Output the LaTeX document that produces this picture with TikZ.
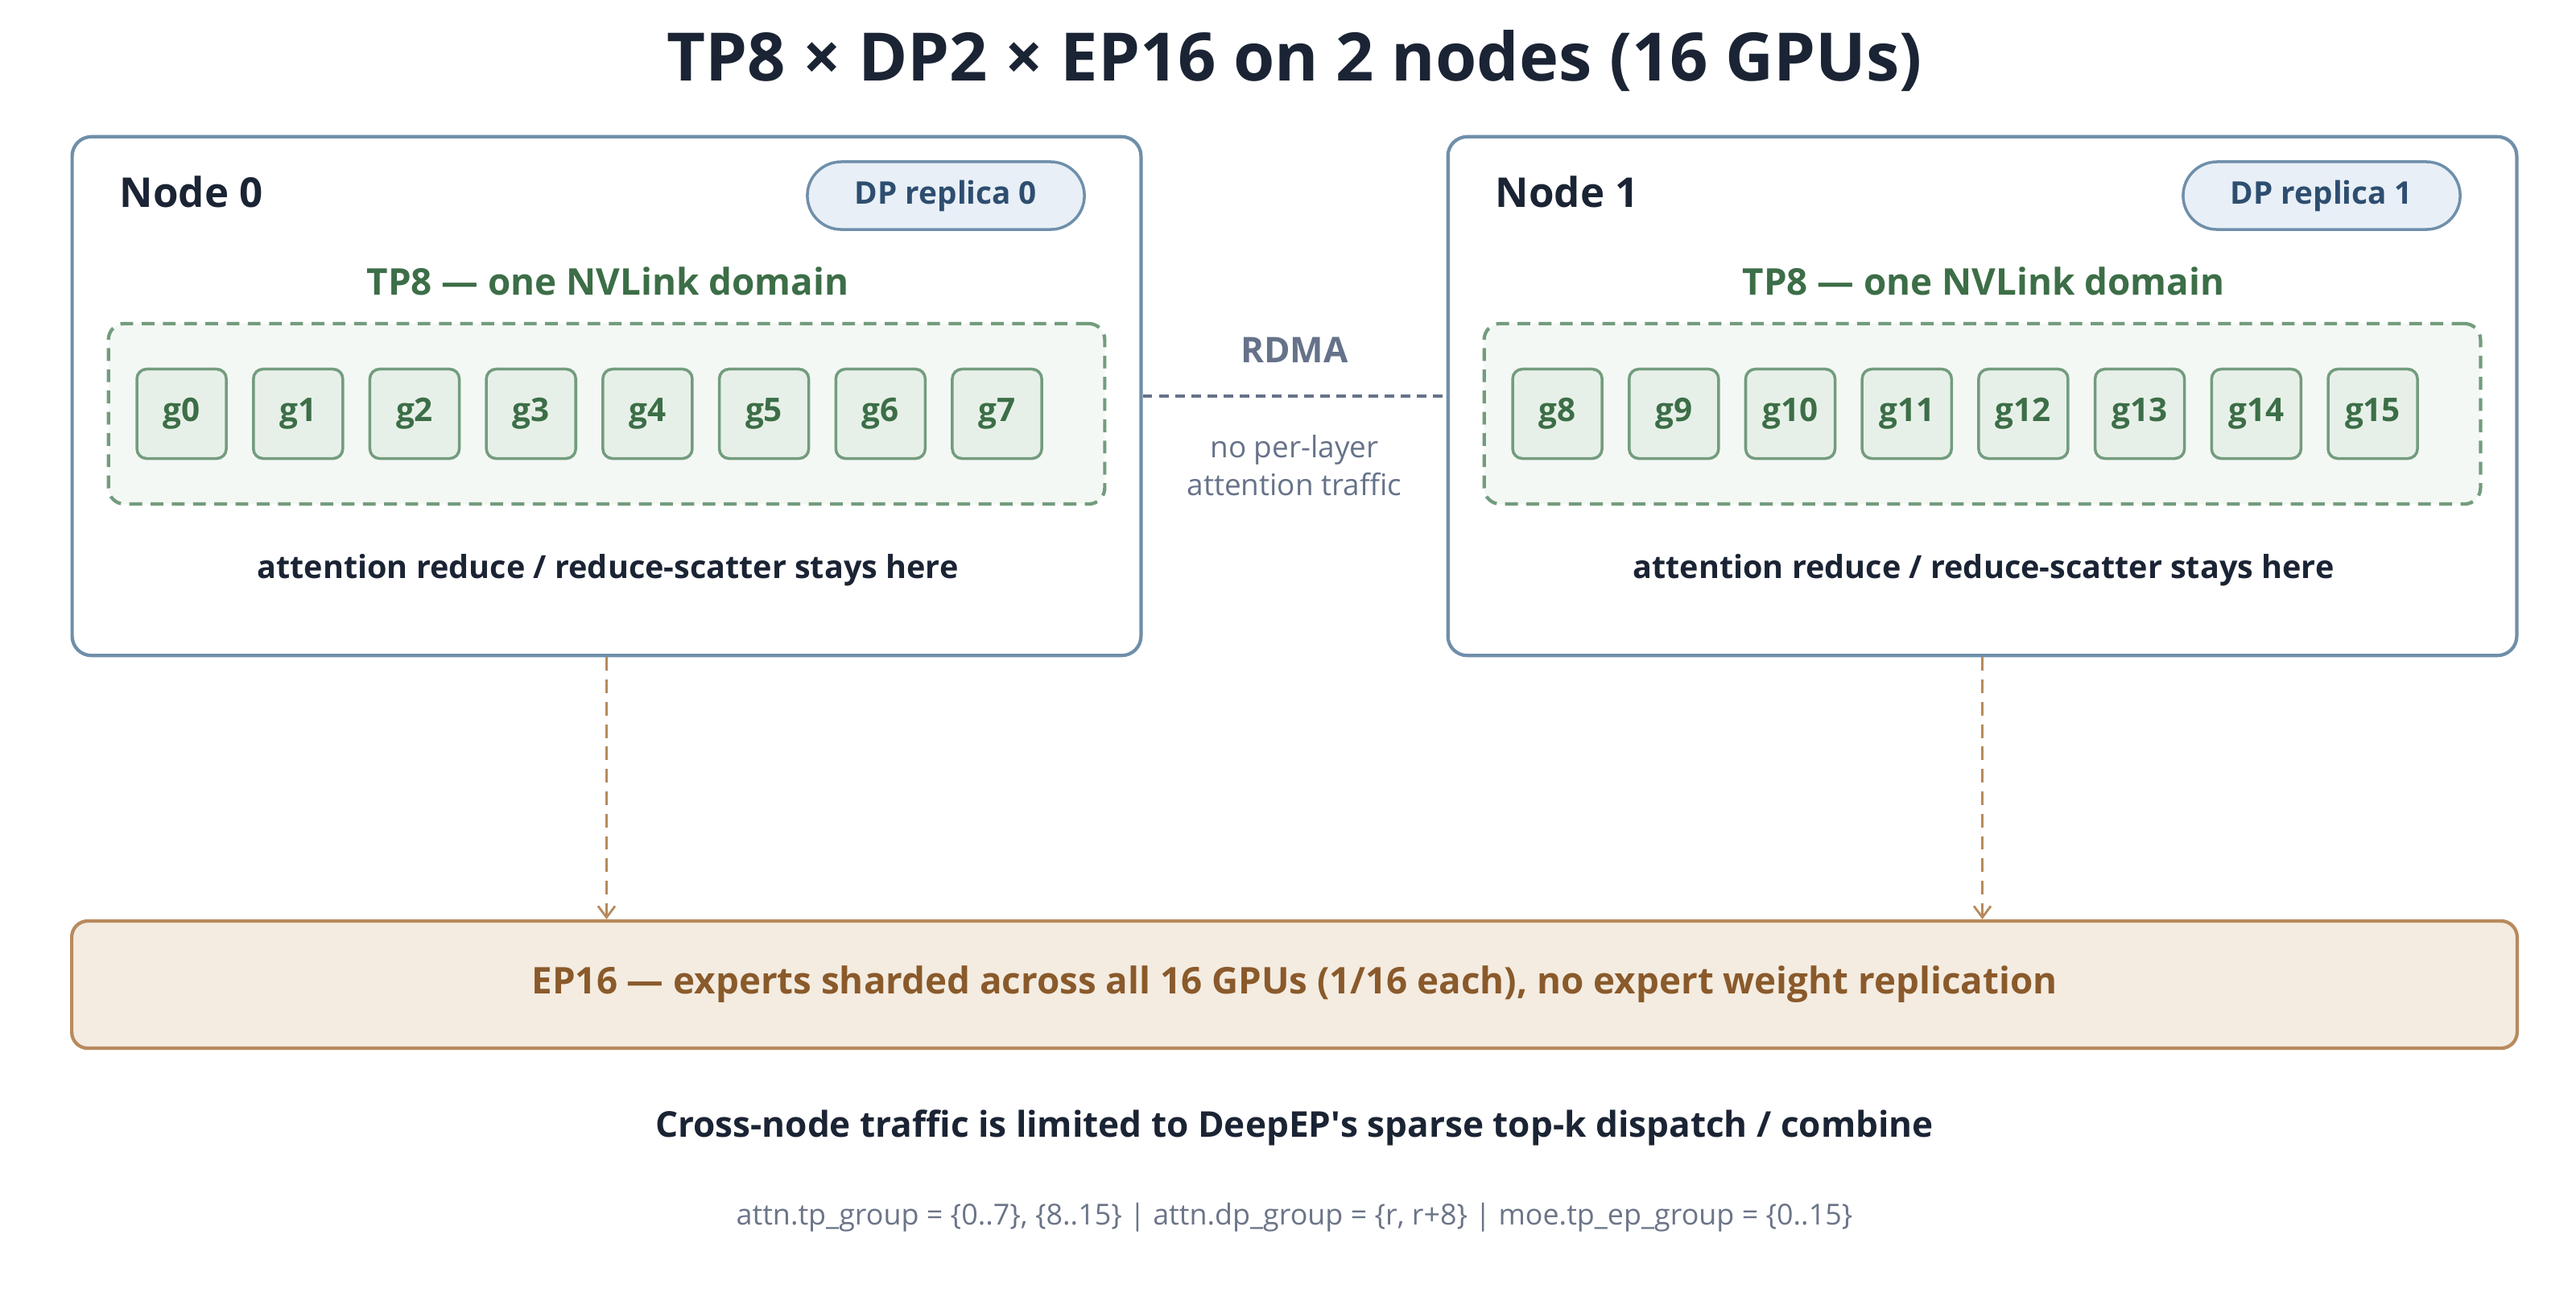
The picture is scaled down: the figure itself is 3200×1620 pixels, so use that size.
\documentclass[tikz,border=0pt]{standalone}
\usepackage{fontspec}
\setmainfont{Open Sans}
\usepackage{xcolor}
\usetikzlibrary{arrows.meta}

\definecolor{ink}{HTML}{1B2434}
\definecolor{nodeline}{HTML}{6F8FAA}
\definecolor{pillfill}{HTML}{E8EFF7}
\definecolor{pilltext}{HTML}{2E4E70}
\definecolor{tpgreen}{HTML}{3C6E47}
\definecolor{tpline}{HTML}{739C7E}
\definecolor{tpfill}{HTML}{F4F8F4}
\definecolor{gpufill}{HTML}{E7F0E8}
\definecolor{rdmagray}{HTML}{667289}
\definecolor{epline}{HTML}{B88A5C}
\definecolor{epfill}{HTML}{F4ECE1}
\definecolor{eptext}{HTML}{8A5A2B}
\definecolor{notegray}{HTML}{6B7488}

\tikzset{
	nodebox/.style={draw=nodeline, line width=1.2pt, fill=white, rounded corners=0.24cm,
		minimum width=13.27cm, minimum height=6.44cm, inner sep=0pt},
	pill/.style={draw=nodeline, line width=1pt, fill=pillfill, rounded corners=0.42cm,
		minimum width=3.44cm, minimum height=0.84cm, text=pilltext,
		font=\bfseries\fontsize{11}{13}\selectfont},
	tpbox/.style={draw=tpline, line width=1.2pt, fill=tpfill, dash pattern=on 4.5pt off 3pt,
		rounded corners=0.2cm, minimum width=12.37cm, minimum height=2.24cm, inner sep=0pt},
	gpu/.style={draw=tpline, line width=1pt, fill=gpufill, rounded corners=0.12cm,
		minimum size=1.11cm, inner sep=0pt, text=tpgreen,
		font=\bfseries\fontsize{11.5}{13}\selectfont},
	boldlbl/.style={font=\bfseries\fontsize{11.25}{14}\selectfont, text=ink},
	epflow/.style={draw=epline, line width=0.8pt, dash pattern=on 4.8pt off 3.1pt,
		-{Straight Barb[length=4pt,width=6pt]}},
}

\begin{document}
\begin{tikzpicture}[x=0.01cm, y=-0.01cm]
	\useasboundingbox[fill=white] (0,0) rectangle (3200,1620);

	%% Title
	\node[text=ink, font=\bfseries\fontsize{23.6}{28}\selectfont] (title) at (1608,76)
		{TP8 × DP2 × EP16 on 2 nodes (16 GPUs)};

	%% The two nodes, one DP replica each
	\foreach \n/\dx in {0/0, 1/1709} {
		\node[nodebox] (node\n) at (753.5+\dx,492) {};
		\node[anchor=west, inner sep=0pt, text=ink, font=\bfseries\fontsize{14.5}{17}\selectfont]
			(name\n) at (148+\dx,238) {Node \n};
		\node[pill] (dp\n) at (1175+\dx,243) {DP replica \n};
		\node[text=tpgreen, font=\bfseries\fontsize{13}{16}\selectfont]
			(tp\n) at (755+\dx,349) {TP8 — one NVLink domain};
		\node[tpbox] (dom\n) at (753.5+\dx,514) {};
		\node[boldlbl] (attn\n) at (755+\dx,708) {attention reduce / reduce-scatter stays here};
	}

	% GPUs g0..g15
	\foreach \i in {0,...,7} {
		\node[gpu] (g\i) at (225.6+144.7*\i,514) {g\i};
		\pgfmathtruncatemacro{\j}{\i+8}
		\node[gpu] (g\j) at (225.6+1709+144.7*\i,514) {g\j};
	}

	% RDMA between the nodes
	\draw[rdmagray, line width=1pt, dash pattern=on 3.4pt off 2.3pt] (node0.east) -- (node1.west);
	\node[text=rdmagray, font=\bfseries\fontsize{12.5}{15}\selectfont] (rdma) at (1608,435) {RDMA};
	\node[text=rdmagray, align=center, font=\fontsize{10.5}{13.3}\selectfont]
		(rdmanote) at (1608,578) {no per-layer\\attention traffic};

	%% EP16 across both nodes
	\node[draw=epline, line width=1.2pt, fill=epfill, rounded corners=0.2cm,
		minimum width=30.36cm, minimum height=1.58cm, text=eptext,
		font=\bfseries\fontsize{13}{16}\selectfont] (ep) at (1608,1223)
		{EP16 — experts sharded across all 16 GPUs (1/16 each), no expert weight replication};
	\draw[epflow] (node0.south) -- (node0.south |- ep.north);
	\draw[epflow] (node1.south) -- (node1.south |- ep.north);

	% Notes
	\node[boldlbl, font=\bfseries\fontsize{12.55}{16}\selectfont] (cross) at (1608,1401)
		{Cross-node traffic is limited to DeepEP\textquotesingle s sparse top-k dispatch / combine};
	\node[text=notegray, font=\fontsize{10.2}{13}\selectfont] (groups) at (1608,1512)
		{attn.tp\_group = \{0..7\}, \{8..15\} | attn.dp\_group = \{r, r+8\} | moe.tp\_ep\_group = \{0..15\}};
\end{tikzpicture}
\end{document}
